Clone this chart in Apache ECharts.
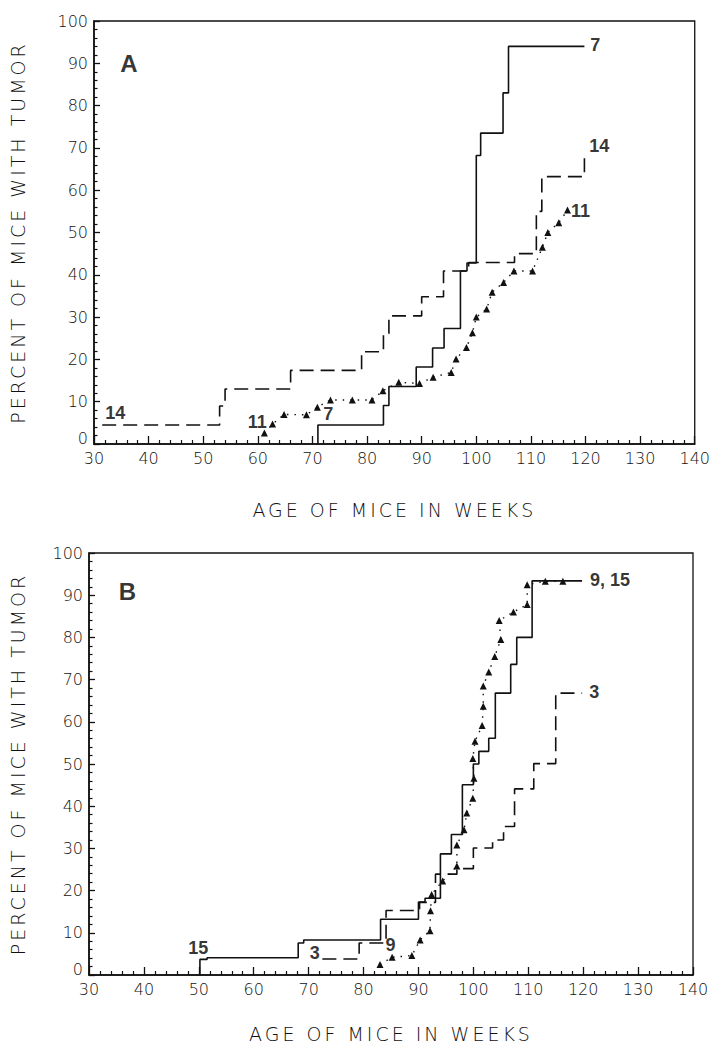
<!DOCTYPE html>
<html>
<head>
<meta charset="utf-8">
<script src="https://cdn.jsdelivr.net/npm/echarts@6/dist/echarts.min.js"></script>
<style>
  html, body { margin: 0; padding: 0; background: #fff; }
  #chart { width: 713px; height: 1044px; }
  svg text[style*="xtitle"] { letter-spacing: 3px; }
</style>
</head>
<body>
<div id="chart"></div>
<script>
// ---------- axis ticks ----------
const X_MIN = 30, X_MAX = 140, X_STEP = 10;
const Y_MIN = 0, Y_MAX = 100, Y_STEP = 10;
const X_TITLE = 'AGE OF MICE IN WEEKS';
const Y_TITLE = 'PERCENT OF MICE WITH TUMOR';

// ---------- Panel A ----------
// strain 7 (solid step)
const A7_WEEKS = [71.0, 71.0, 83.0, 84.0, 89.0, 92.0, 94.1, 97.1, 98.3, 100.0, 100.8, 104.9, 105.9, 119.8];
const A7_PCT   = [0,    4.5,  9.1, 13.6, 18.2, 22.7, 27.3, 40.9, 42.8, 68.2,  73.5,  83.0,  94.0,  94.0];
// strain 14 (dashed step)
const A14_WEEKS = [31.5, 53.0, 54.0, 66.0, 79.0, 83.0, 84.0, 90.0, 94.0, 98.6, 107.0, 111.0, 112.0, 119.8];
const A14_PCT   = [4.5,  9.0, 13.0, 17.4, 21.8, 26.1, 30.3, 34.8, 40.9, 42.9, 45.0,  55.0,  63.2,  69.1];
// strain 11 (triangles, dotted)
const A11_WEEKS = [61.2, 62.7, 64.8, 68.9, 70.9, 73.3, 77.3, 80.9, 82.9, 85.8, 89.6, 92.1, 95.4, 96.3, 98.2, 99.3, 100.0, 101.9, 102.9, 105.0, 106.9, 110.3, 112.1, 113.1, 115.1, 116.7];
const A11_PCT   = [2.6,  4.7,  7.0,  6.9,  8.7, 10.4, 10.4, 10.4, 12.6, 14.6, 14.3, 15.8, 16.9, 20.1, 22.8, 26.3, 30.0,  31.9,  35.9,  38.2,  40.9,  40.9,  46.5,  50.0,  52.3,  55.3];

// ---------- Panel B ----------
// strain 15 (solid step)
const B15_WEEKS = [50.2, 50.2, 51.5, 68.1, 69.1, 83.1, 90.0, 91.2, 94.0, 96.0, 98.0, 100.0, 101.0, 102.8, 104.0, 106.8, 107.9, 110.7, 119.8];
const B15_PCT   = [0,    3.7,  4.1,  7.6,  8.3, 13.2, 17.3, 18.2, 28.7, 33.3, 45.1, 50.0,  53.0,  56.1,  66.8,  73.6,  80.0,  93.4,  93.4];
// strain 3 (dashed step)
const B3_WEEKS = [72.5, 79.2, 84.1, 90.2, 93.1, 97.0, 100.0, 103.5, 105.5, 107.5, 111.0, 115.0, 119.8];
const B3_PCT   = [3.8,  7.6, 15.3, 17.2, 23.9, 25.2, 30.1,  32.0,  35.2,  44.1,  50.1,  66.8,  66.8];
// strain 9 (triangles, dotted)
const B9_WEEKS = [83.0, 85.2, 88.8, 90.3, 92.1, 92.2, 92.4, 94.4, 97.0, 97.0, 98.3, 98.8, 99.9, 100.1, 99.9, 100.3, 101.6, 101.8, 101.8, 102.8, 103.9, 105.0, 104.7, 107.3, 109.8, 109.8, 113.1, 116.3];
const B9_PCT   = [2.5,  4.2,  4.6,  8.3, 10.5, 15.2, 19.1, 22.3, 25.8, 30.8, 34.4, 38.4, 41.9, 46.6,  51.3, 55.4,  59.1,  63.7,  68.5,  71.8,  75.5,  79.5,  84.0,  86.0,  87.8,  92.5,  93.3,  93.3];

// ---------- in-plot labels (text, week, percent, size) ----------
const A_LABEL_TEXT  = ['A', '7', '14', '11', '14', '11', '7'];
const A_LABEL_WEEK  = [36.4, 121.8, 122.5, 119.1, 33.9, 59.9, 72.9];
const A_LABEL_PCT   = [90.0, 94.4, 70.4, 55.2, 7.4, 5.2, 7.2];
const A_LABEL_SIZE  = [24, 18, 18, 18, 18, 18, 18];
const B_LABEL_TEXT  = ['B', '9, 15', '3', '15', '3', '9'];
const B_LABEL_WEEK  = [37.0, 124.9, 122.0, 49.9, 71.1, 84.9];
const B_LABEL_PCT   = [90.9, 93.5, 67.0, 6.4, 5.2, 7.0];
const B_LABEL_SIZE  = [24, 18, 18, 18, 18, 18];

const zip = (xs, ys) => xs.map((x, i) => [x, ys[i]]);
const labelData = (t, w, p, s) => t.map((txt, i) => ({
  value: [w[i], p[i]],
  label: { formatter: txt, fontSize: s[i] }
}));

const INK = '#111';
const TICK_FONT = 'DejaVu Sans';
const TITLE_FONT = 'DejaVu Sans, xtitle';

function makeX(gridIndex, nameGap) {
  return {
    type: 'value', gridIndex, min: X_MIN, max: X_MAX, interval: X_STEP,
    name: X_TITLE, nameLocation: 'middle', nameGap,
    nameTextStyle: { fontSize: 19, color: '#111', fontFamily: TITLE_FONT, fontWeight: 200 },
    axisLine: { show: true, lineStyle: { color: INK, width: 1.6 } },
    axisTick: { show: true, inside: true, length: 8, lineStyle: { color: INK, width: 1.3 } },
    minorTick: { show: true, splitNumber: 5, length: 4, lineStyle: { color: INK, width: 1.2 } },
    splitLine: { show: false },
    axisLabel: { fontSize: 16, color: '#111', margin: 7, lineHeight: 14, fontFamily: TICK_FONT, fontWeight: 200 }
  };
}
function makeY(gridIndex, nameGap) {
  return {
    type: 'value', gridIndex, min: Y_MIN, max: Y_MAX, interval: Y_STEP,
    name: Y_TITLE, nameLocation: 'middle', nameGap,
    nameTextStyle: { fontSize: 19, color: '#111', fontFamily: TITLE_FONT, fontWeight: 200 },
    axisLine: { show: true, lineStyle: { color: INK, width: 1.6 } },
    axisTick: { show: true, inside: true, length: 6, lineStyle: { color: INK, width: 1.3 } },
    minorTick: { show: true, splitNumber: 5, length: 3.5, lineStyle: { color: INK, width: 1.2 } },
    splitLine: { show: false },
    axisLabel: { fontSize: 16, color: '#111', margin: 6, lineHeight: 12, fontFamily: TICK_FONT, fontWeight: 200,
      verticalAlignMinLabel: 'bottom' }
  };
}

const solid = { color: INK, width: 1.6, type: 'solid' };
const dashed = { color: INK, width: 1.6, type: [14, 7] };
const dotted = { color: INK, width: 1.4, type: [1.5, 6] };

function stepSeries(name, idx, data, ls) {
  return { name, type: 'line', xAxisIndex: idx, yAxisIndex: idx, data, step: 'end',
    showSymbol: false, symbol: 'none', lineStyle: ls, silent: true, animation: false, z: 3 };
}
function triSeries(name, idx, data) {
  return { name, type: 'line', xAxisIndex: idx, yAxisIndex: idx, data,
    symbol: 'triangle', symbolSize: 7, showSymbol: true,
    itemStyle: { color: INK }, lineStyle: dotted, silent: true, animation: false, z: 4 };
}
function labelSeries(idx, data) {
  return { type: 'scatter', xAxisIndex: idx, yAxisIndex: idx, data, symbolSize: 1,
    itemStyle: { color: 'rgba(0,0,0,0)' }, silent: true, animation: false, z: 5,
    label: { show: true, position: 'inside', color: '#000', fontWeight: 'bold',
      fontFamily: 'Liberation Sans' } };
}

const chart = echarts.init(document.getElementById('chart'), null, { renderer: 'svg' });
chart.setOption({
  backgroundColor: '#fff',
  animation: false,
  grid: [
    { left: 90, top: 21, width: 605, height: 423, show: true, borderColor: INK, borderWidth: 1.3, backgroundColor: 'transparent' },
    { left: 87, top: 553, width: 606, height: 425, show: true, borderColor: INK, borderWidth: 1.3, backgroundColor: 'transparent' }
  ],
  xAxis: [makeX(0, 56), makeX(1, 49)],
  yAxis: [makeY(0, 67), makeY(1, 62)],
  series: [
    stepSeries('7', 0, zip(A7_WEEKS, A7_PCT), solid),
    stepSeries('14', 0, zip(A14_WEEKS, A14_PCT), dashed),
    triSeries('11', 0, zip(A11_WEEKS, A11_PCT)),
    labelSeries(0, labelData(A_LABEL_TEXT, A_LABEL_WEEK, A_LABEL_PCT, A_LABEL_SIZE)),
    stepSeries('15', 1, zip(B15_WEEKS, B15_PCT), solid),
    stepSeries('3', 1, zip(B3_WEEKS, B3_PCT), dashed),
    triSeries('9', 1, zip(B9_WEEKS, B9_PCT)),
    labelSeries(1, labelData(B_LABEL_TEXT, B_LABEL_WEEK, B_LABEL_PCT, B_LABEL_SIZE))
  ]
});
</script>
</body>
</html>
